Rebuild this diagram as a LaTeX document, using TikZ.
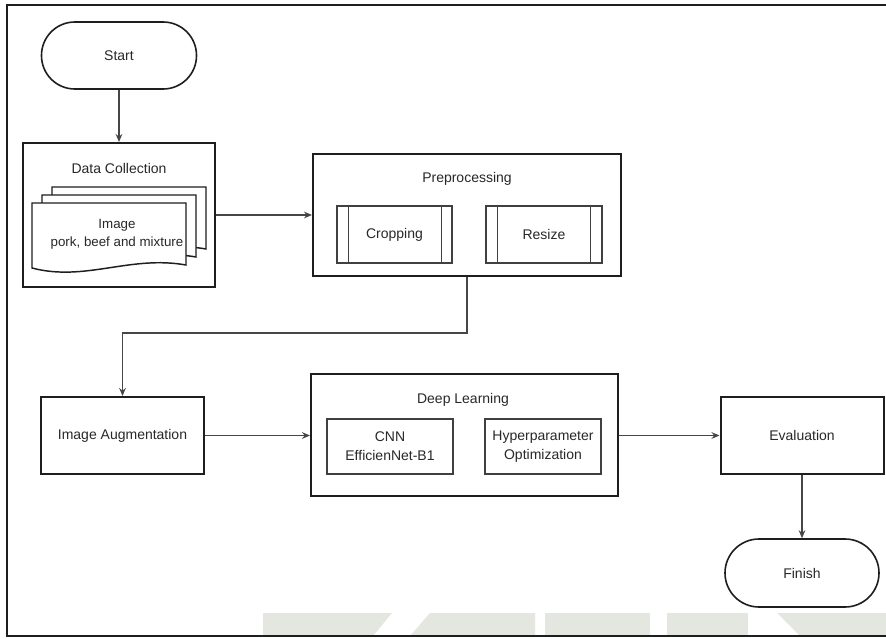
\documentclass[tikz,border=0pt]{standalone}
\usepackage{fontspec}
\setmainfont{Liberation Sans}
\usetikzlibrary{arrows.meta}
\definecolor{ln}{RGB}{30,30,30}
\definecolor{cn}{RGB}{70,70,70}
\definecolor{tx}{RGB}{40,40,40}
\definecolor{wm}{RGB}{228,231,224}
\tikzset{
  bigbox/.style={draw=ln, line width=1.5pt, fill=white, inner sep=0pt},
  smallbox/.style={draw=ln!85, line width=0.9pt, inner sep=0pt, align=center},
  term/.style={draw=ln, line width=1.2pt, inner sep=0pt},
  docst/.style={draw=ln, line width=1.1pt, fill=white},
  conn/.style={draw=cn, line width=0.9pt, -{Stealth[length=6pt,width=5pt]}},
  lbl/.style={inner sep=0pt, align=center, text=tx}
}
\newcommand{\mydocshape}[3]{%
  \filldraw[docst] (#1,#3) -- (#1,#2) -- ({#1+154},#2) -- ({#1+154},{#3-3})
    .. controls ({#1+98},{#3-13}) and ({#1+53},{#3+14}) .. (#1,#3) -- cycle;}
\begin{document}
\begin{tikzpicture}[x=0.75pt,y=-0.75pt,font=\fontsize{10.5}{13.5}\selectfont,text=tx]
\useasboundingbox (0,0) rectangle (886,639);
\fill[white] (0,0) rectangle (886,639);
% watermark
\fill[wm] (263,613) -- (392,613) -- (373,636) -- (263,636) -- cycle;
\fill[wm] (430,613) -- (535,613) -- (535,636) -- (410,636) -- cycle;
\fill[wm] (545,613) -- (650,613) -- (650,636) -- (545,636) -- cycle;
\fill[wm] (667,613) -- (748,613) -- (748,636) -- (667,636) -- cycle;
\fill[wm] (777,613) -- (886,613) -- (886,636) -- (800,636) -- cycle;
% frame
\draw[ln, line width=1.6pt] (886,5) -- (7,5) -- (7,636) -- (886,636);

% Start
\node[term, rounded corners=25pt, minimum width=116.25pt, minimum height=50.25pt] (start) at (119,55.5) {Start};

% Data collection
\node[bigbox, minimum width=144pt, minimum height=108pt] (dc) at (119,215) {};
\node[lbl] (dctitle) at (119,168) {Data Collection};
\mydocshape{52}{187}{252}
\mydocshape{42}{195}{260}
\mydocshape{32}{203}{268}
\node[lbl, font=\fontsize{10}{13.5}\selectfont] (doctext) at (117,234) {Image\\pork, beef and mixture};

% Preprocessing
\node[bigbox, minimum width=231pt, minimum height=91.5pt] (pp) at (467,215) {};
\node[lbl] (pptitle) at (467,179) {Preprocessing};
\node[smallbox, minimum width=86.25pt, minimum height=42.75pt] (crop) at (394.5,234.5) {Cropping};
\draw[ln!85, line width=0.9pt] ([xshift=9pt]crop.north west) -- ([xshift=9pt]crop.south west);
\draw[ln!85, line width=0.9pt] ([xshift=-8.25pt]crop.north east) -- ([xshift=-8.25pt]crop.south east);
\node[smallbox, minimum width=87pt, minimum height=42.75pt] (resize) at (544,234.5) {Resize};
\draw[ln!85, line width=0.9pt] ([xshift=9pt]resize.north west) -- ([xshift=9pt]resize.south west);
\draw[ln!85, line width=0.9pt] ([xshift=-9pt]resize.north east) -- ([xshift=-9pt]resize.south east);

% Image augmentation
\node[bigbox, minimum width=122.25pt, minimum height=57.75pt] (ia) at (122.5,435.5) {Image Augmentation};

% Deep learning
\node[bigbox, minimum width=230.25pt, minimum height=91.5pt] (dl) at (464.5,435) {};
\node[lbl] (dltitle) at (463,400) {Deep Learning};
\node[smallbox, minimum width=94.5pt, minimum height=41.25pt, font=\fontsize{10.5}{14.25}\selectfont] (cnn) at (390,446.5) {CNN\\EfficienNet-B1};
\node[smallbox, minimum width=87pt, minimum height=41.25pt, font=\fontsize{10.5}{14.25}\selectfont] (hyper) at (543,446.5) {Hyperparameter\\Optimization};

% Evaluation and finish
\node[bigbox, minimum width=122.25pt, minimum height=57.75pt] (eval) at (802,435.5) {Evaluation};
\node[term, rounded corners=25.5pt, minimum width=115.5pt, minimum height=51pt] (finish) at (802,573) {Finish};

% connectors
\draw[conn] (start) -- (dc);
\draw[conn] (dc.east) -- (pp.west);
\draw[conn] (pp.south) -- ++(0,56) -| (ia.north);
\draw[conn] (ia.east) -- (dl.west |- ia.east);
\draw[conn] (dl.east |- eval.west) -- (eval.west);
\draw[conn] (eval) -- (finish);
\end{tikzpicture}
\end{document}
